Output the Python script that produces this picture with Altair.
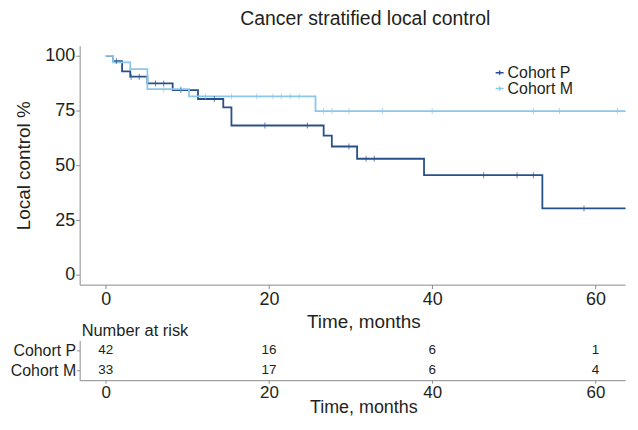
import altair as alt
import pandas as pd

# ---- data ----
cohorts = ["Cohort P", "Cohort M"]
colors = ["#28508a", "#8cc6ea"]

p_times = [0, 0.9, 2.0, 3.0, 5.1, 8.2, 11.3, 14.4, 15.4, 26.7, 27.7, 30.8, 39.0, 53.5, 63.7]
p_surv = [100, 97.6, 92.9, 90.5, 87.4, 84.4, 80.3, 76.5, 68.2, 63.6, 58.6, 53.0, 45.5, 30.3, 30.3]
m_times = [0, 0.9, 3.0, 5.1, 10.2, 25.7, 63.7]
m_surv = [100, 97.0, 93.9, 84.8, 81.5, 74.8, 74.8]

p_cens = [1.3, 3.1, 4.1, 6.1, 7.1, 9.2, 13.3, 19.5, 24.7, 29.8, 31.9, 32.9, 46.3, 50.4, 52.4, 58.6]
m_cens = [7.1, 9.2, 12.2, 15.4, 18.5, 20.5, 21.5, 22.6, 23.7, 26.7, 27.7, 29.8,
          33.9, 40.0, 52.4, 55.6, 62.7]

risk_times = [0, 20, 40, 60]
risk_p = [42, 16, 6, 1]
risk_m = [33, 17, 6, 4]

x_ticks = [0, 20, 40, 60]
y_ticks = [0, 25, 50, 75, 100]


def step_value(times, surv, t):
    v = surv[0]
    for tt, ss in zip(times, surv):
        if tt <= t:
            v = ss
    return v


lines = pd.DataFrame(
    [{"cohort": "Cohort P", "t": t, "s": s} for t, s in zip(p_times, p_surv)]
    + [{"cohort": "Cohort M", "t": t, "s": s} for t, s in zip(m_times, m_surv)]
)
cens = pd.DataFrame(
    [{"cohort": "Cohort P", "t": t, "s": step_value(p_times, p_surv, t)} for t in p_cens]
    + [{"cohort": "Cohort M", "t": t, "s": step_value(m_times, m_surv, t)} for t in m_cens]
)
risk = pd.DataFrame(
    [{"cohort": "Cohort P", "t": t, "n": n} for t, n in zip(risk_times, risk_p)]
    + [{"cohort": "Cohort M", "t": t, "n": n} for t, n in zip(risk_times, risk_m)]
)

FONT = "Liberation Sans"
TXT = "#231f20"
GRAY = "#8a8a8a"
W = 548

xs = alt.Scale(domain=[-3.2, 63.63], nice=False, zero=False)
ys = alt.Scale(domain=[-4.5, 104.6], nice=False, zero=False)
cs = alt.Scale(domain=cohorts, range=colors)

x_axis = alt.Axis(values=x_ticks, title="Time, months", grid=False, labelFontSize=18,
                  titleFontSize=19, titleFontWeight="normal", tickSize=4, labelPadding=2,
                  titlePadding=4, titleX=285, domainColor=GRAY, tickColor=GRAY,
                  labelColor=TXT, titleColor=TXT, labelFont=FONT, titleFont=FONT)
y_axis = alt.Axis(values=y_ticks, title="Local control %", grid=False, labelFontSize=18,
                  titleFontSize=19, titleFontWeight="normal", tickSize=4, labelPadding=1,
                  titlePadding=11, domainColor=GRAY, tickColor=GRAY,
                  labelColor=TXT, titleColor=TXT, labelFont=FONT, titleFont=FONT)

legend = alt.Legend(title=None, orient="none", legendX=414, legendY=19, labelFontSize=16,
                    labelFont=FONT, labelColor=TXT, symbolType="M-1,0L1,0M0,-0.55L0,0.55",
                    symbolSize=64, symbolStrokeWidth=1.5, rowPadding=-10, labelOffset=0,
                    symbolFillColor="transparent")


def layer_for(name):
    base_line = alt.Chart(lines).transform_filter(alt.datum.cohort == name)
    base_tick = alt.Chart(cens).transform_filter(alt.datum.cohort == name)
    ln = base_line.mark_line(interpolate="step-after", strokeWidth=1.8).encode(
        x=alt.X("t:Q", scale=xs, axis=x_axis),
        y=alt.Y("s:Q", scale=ys, axis=y_axis),
        color=alt.Color("cohort:N", scale=cs, legend=legend),
    )
    tk = base_tick.mark_tick(orient="vertical", size=6, thickness=1).encode(
        x=alt.X("t:Q", scale=xs),
        y=alt.Y("s:Q", scale=ys),
        color=alt.Color("cohort:N", scale=cs, legend=None),
    )
    return ln, tk


pl, pt = layer_for("Cohort P")
ml, mt = layer_for("Cohort M")

main = alt.layer(pl, ml, pt, mt).properties(
    width=W, height=240,
    title=alt.TitleParams("Cancer stratified local control", fontSize=19.5, font=FONT,
                          fontWeight="normal", color=TXT, anchor="middle", frame="group",
                          dx=13, offset=16),
)

risk_chart = alt.Chart(risk).mark_text(font=FONT, fontSize=13.5, color=TXT).encode(
    x=alt.X("t:Q", scale=xs,
            axis=alt.Axis(values=x_ticks, title="Time, months", grid=False, labelFontSize=17,
                          titleFontSize=18, titleFontWeight="normal", tickSize=3,
                          labelPadding=1, titlePadding=-2, titleX=285, domainColor=GRAY,
                          tickColor=GRAY, labelColor=TXT, titleColor=TXT,
                          labelFont=FONT, titleFont=FONT)),
    y=alt.Y("cohort:N", sort=cohorts,
            axis=alt.Axis(title=None, labelFontSize=16, labelFont=FONT, labelColor=TXT,
                          tickSize=3, labelPadding=1, domainColor=GRAY,
                          tickColor=GRAY, grid=False)),
    text="n:Q",
).properties(
    width=W, height=40,
    title=alt.TitleParams("Number at risk", fontSize=16.5, font=FONT, fontWeight="normal",
                          color=TXT, anchor="start", frame="group", offset=1, dx=2),
)

chart = alt.vconcat(main, risk_chart, spacing=56, bounds="flush").properties(
    padding={"left": 2, "top": 0, "right": 0, "bottom": 0}
).configure(font=FONT, view=alt.ViewConfig(stroke=None))

chart.save("out.html", embed_options={"renderer": "svg", "actions": False})
